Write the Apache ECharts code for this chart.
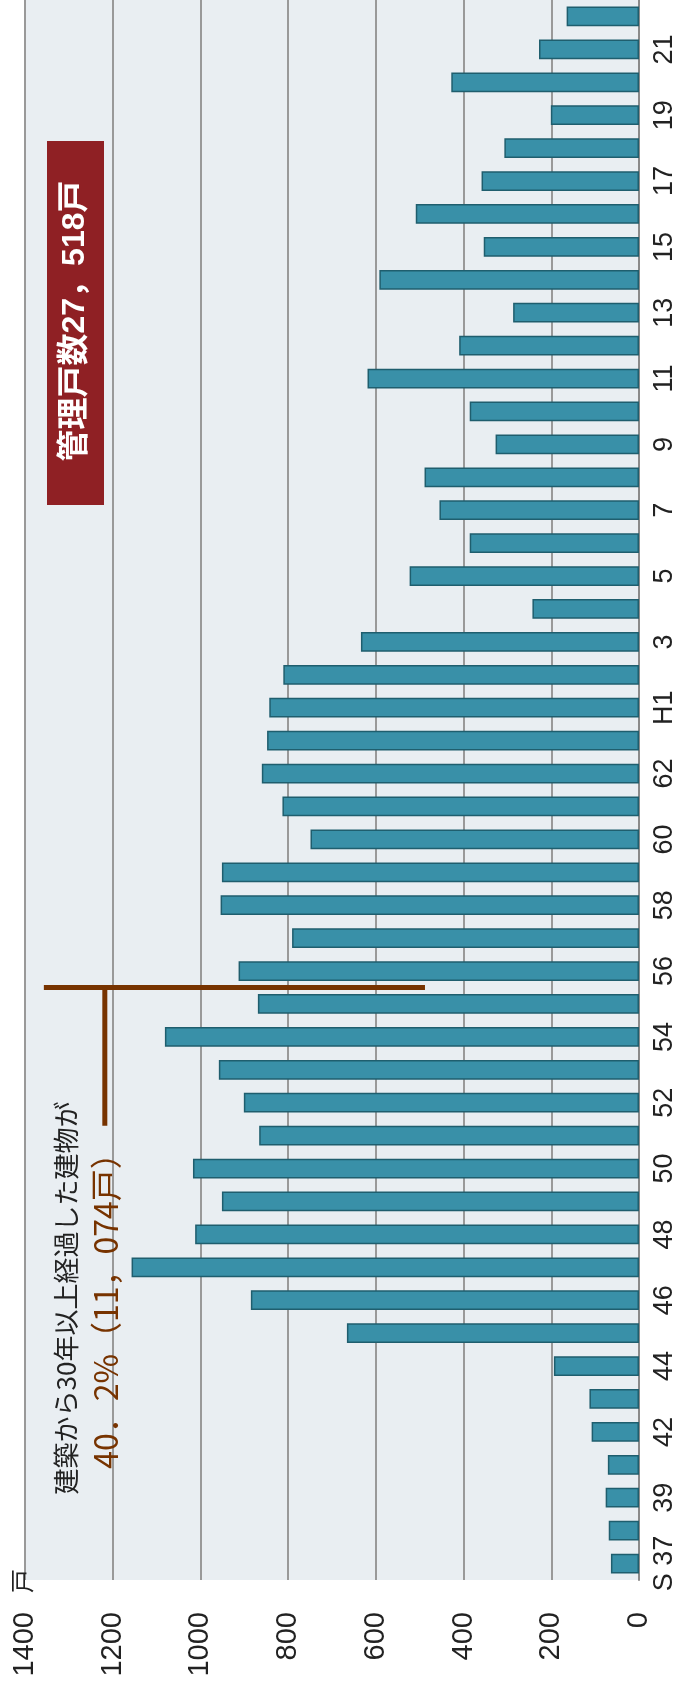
<!DOCTYPE html>
<html lang="ja">
<head>
    <meta charset="UTF-8">
    <title>管理戸数 建築年別</title>
    <script src="https://cdn.jsdelivr.net/npm/echarts@6/dist/echarts.min.js"></script>
</head>
<style>
    html, body {
        margin: 0;
        padding: 0;
        background: #ffffff;
    }
    #chart {
        width: 690px;
        height: 1687px;
    }
</style>
<body>
<div id="chart"></div>
<script>
    // 建築年（S37 〜 H22）
    var years = ['S 37', '38', '39', '40', '42', '43', '44', '45', '46', '47', '48', '49',
        '50', '51', '52', '53', '54', '55', '56', '57', '58', '59', '60', '61', '62', '63',
        'H1', '2', '3', '4', '5', '6', '7', '8', '9', '10', '11', '12', '13', '14', '15',
        '16', '17', '18', '19', '20', '21', '22'];
    // 戸数
    var households = [64, 69, 76, 71, 108, 113, 194, 666, 885, 1157, 1012, 951,
        1017, 866, 901, 958, 1081, 869, 913, 791, 954, 951, 749, 813, 860, 848,
        843, 811, 634, 243, 523, 386, 455, 489, 327, 386, 619, 410, 287, 592, 354,
        509, 359, 307, 201, 428, 228, 165];
    var valueTicks = [0, 200, 400, 600, 800, 1000, 1200, 1400];

    var FONT = '"Liberation Sans", "Noto Sans CJK JP", sans-serif';
    var JP = '"Noto Sans CJK JP", sans-serif';
    var BROWN = '#773300';

    var chart = echarts.init(document.getElementById('chart'));
    chart.setOption({
        animation: false,
        grid: {
            left: 25, right: 51, top: 0, bottom: 107,
            show: true, backgroundColor: '#e9eef2', borderWidth: 0
        },
        xAxis: {
            type: 'value',
            inverse: true,
            position: 'bottom',
            min: valueTicks[0],
            max: valueTicks[valueTicks.length - 1],
            interval: 200,
            axisLine: {show: false},
            axisTick: {show: false},
            axisLabel: {
                rotate: 90, fontSize: 29, color: '#222', margin: 32, fontFamily: FONT,
                formatter: function (v) { return String(v); }
            },
            splitLine: {lineStyle: {color: '#999', width: 2}}
        },
        yAxis: {
            type: 'category',
            position: 'right',
            data: years,
            axisLine: {lineStyle: {color: '#8a8a8a', width: 2}},
            axisTick: {show: false},
            axisLabel: {rotate: 90, interval: 1, fontSize: 27, color: '#222', margin: 12, fontFamily: FONT}
        },
        series: [{
            type: 'bar',
            data: households,
            barCategoryGap: '40%',
            itemStyle: {color: '#3990a8', borderColor: '#1f5e6e', borderWidth: 1.5}
        }]
    });

    // 注記（30年以上の境界線など）
    function px(v) { return chart.convertToPixel({xAxisIndex: 0}, v); }
    function py(i) { return chart.convertToPixel({yAxisIndex: 0}, i); }
    var step = py(0) - py(1);
    var lineY = (py(17) + py(18)) / 2;
    var stemX = px(1218);

    chart.setOption({
        graphic: [
            {
                type: 'line', shape: {x1: px(1357), y1: lineY, x2: px(488), y2: lineY},
                style: {stroke: BROWN, lineWidth: 5}
            },
            {
                type: 'line', shape: {x1: stemX, y1: lineY, x2: stemX, y2: lineY + step * 4.2},
                style: {stroke: BROWN, lineWidth: 5}
            },
            {
                type: 'text', x: 66, y: 1298, rotation: Math.PI / 2,
                style: {text: '建築から30年以上経過した建物が', fontSize: 26, fill: '#222',
                    fontFamily: JP, textAlign: 'center', textVerticalAlign: 'middle'}
            },
            {
                type: 'text', x: 106, y: 1303, rotation: Math.PI / 2,
                style: {text: '40．2%（11，074戸）', fontSize: 32, fill: BROWN,
                    fontFamily: JP, textAlign: 'center', textVerticalAlign: 'middle'}
            },
            {
                type: 'rect', shape: {x: 47, y: 141, width: 57, height: 364},
                style: {fill: '#8f2024'}
            },
            {
                type: 'text', x: 75, y: 321, rotation: Math.PI / 2,
                style: {text: '管理戸数27，518戸', fontSize: 32, fontWeight: 'bold', fill: '#fff',
                    fontFamily: FONT, textAlign: 'center', textVerticalAlign: 'middle'}
            },
            {
                type: 'text', x: 22, y: 1581, rotation: Math.PI / 2,
                style: {text: '戸', fontSize: 24, fill: '#222',
                    fontFamily: JP, textAlign: 'center', textVerticalAlign: 'middle'}
            }
        ]
    });
</script>
</body>
</html>
